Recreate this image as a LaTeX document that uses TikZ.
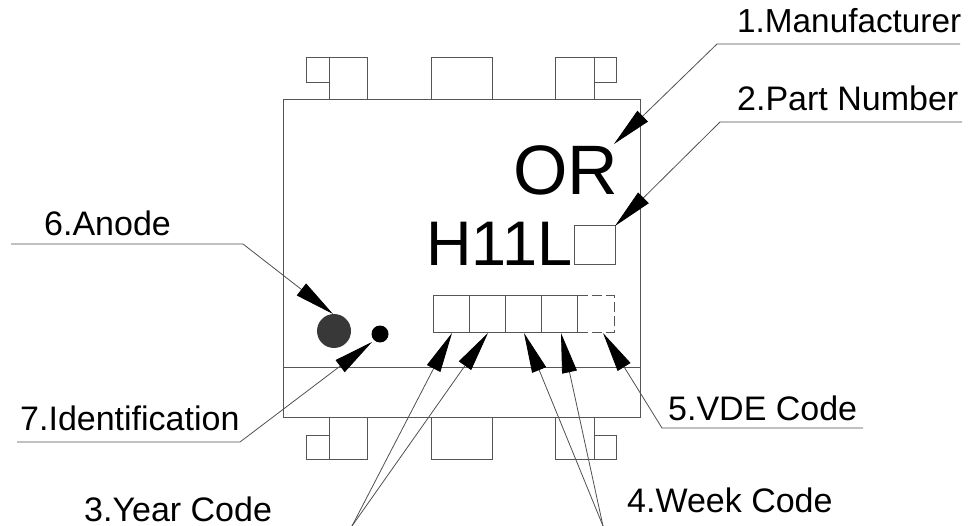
\documentclass[tikz,border=0pt]{standalone}
\usepackage{fontspec}
\setmainfont{Liberation Sans}
\usetikzlibrary{arrows.meta}
\definecolor{outline}{HTML}{555555}
\definecolor{leader}{HTML}{505050}
\tikzset{
  x=1pt,y=-1pt,
  part/.style={draw=outline,line width=1pt,fill=none},
  lead/.style={draw=leader,line width=0.8pt,line join=miter},
  pointer/.style={lead,-{Triangle[length=40pt,width=15pt,fill=black,color=black]}},
  callout/.style={inner sep=0pt,anchor=base west,font=\fontsize{34}{34}\selectfont,text=black},
  marking/.style={inner sep=0pt,anchor=base west,text=black},
  cell/.style={draw=outline,line width=1pt,minimum width=36.2pt,minimum height=36pt,inner sep=0pt,anchor=north west,outer sep=0pt}
}
\begin{document}
\begin{tikzpicture}
\useasboundingbox (0,0) rectangle (968,526);
% body
\draw[part] (283,100) rectangle (640,417);
\draw[part] (283,367) -- (640,367);
% top pins
\draw[part] (329,100) -- (329,58) -- (367.5,58) -- (367.5,100);
\draw[part] (329,58) -- (306,58) -- (306,83) -- (329,83);
\draw[part] (431,100) -- (431,58) -- (492,58) -- (492,100);
\draw[part] (555,100) -- (555,58) -- (594,58) -- (594,100);
\draw[part] (594,58) -- (616,58) -- (616,83) -- (594,83);
% bottom pins
\draw[part] (329,417) -- (329,459) -- (367.5,459) -- (367.5,417);
\draw[part] (329,435) -- (306,435) -- (306,459) -- (329,459);
\draw[part] (431,417) -- (431,459) -- (492,459) -- (492,417);
\draw[part] (555,417) -- (555,459) -- (594,459) -- (594,417);
\draw[part] (594,435) -- (616,435) -- (616,459) -- (594,459);
% markings
\node[marking,font=\fontsize{70}{70}\selectfont] (maker) at (513,194.5) {OR};
\node[marking,font=\fontsize{63}{63}\selectfont] (partno) at (426,265.5) {H11L};
\node[cell,minimum width=41pt,minimum height=39pt] (partbox) at (574,226) {};
\node[cell] (y1) at (433,296) {};
\node[cell] (y2) at (469.2,296) {};
\node[cell] (w1) at (505.4,296) {};
\node[cell] (w2) at (541.6,296) {};
\node[cell,draw=none] (vde) at (577.8,296) {};
\draw[part,dashed,dash pattern=on 10pt off 4pt] (vde.north west) -- (vde.north east) -- (vde.south east) -- (vde.south west);
\node[circle,fill=black!78,draw=none,minimum size=34pt,inner sep=0pt] (anode) at (334,331) {};
\node[circle,fill=black,draw=none,minimum size=17pt,inner sep=0pt] (ident) at (380,334) {};
% labels
\node[callout,font=\fontsize{33.3}{34}\selectfont] (l1) at (737,33) {1.Manufacturer};
\node[callout] (l2) at (737,111) {2.Part Number};
\node[callout] (l3) at (84,521) {3.Year Code};
\node[callout] (l4) at (627,512) {4.Week Code};
\node[callout] (l5) at (668,420) {5.VDE Code};
\node[callout] (l6) at (44,236) {6.Anode};
\node[callout] (l7) at (20,430) {7.Identification};
% leader coordinates
\coordinate (a1) at (960,44); \coordinate (b1) at (717,44); \coordinate (t1) at (614,144);
\coordinate (a2) at (962,122); \coordinate (b2) at (720,122);
\coordinate (a5) at (863,428); \coordinate (b5) at (662,428); \coordinate (t5) at (603,333);
\coordinate (a6) at (11,244); \coordinate (b6) at (243,244); \coordinate (t6) at (333,314);
\coordinate (a7) at (17,442); \coordinate (b7) at (240,442); \coordinate (t7) at (372,342);
\coordinate (a3) at (352,526); \coordinate (t3a) at (452,333); \coordinate (t3b) at (488,333);
\coordinate (a4) at (603,526); \coordinate (t4a) at (524,333); \coordinate (t4b) at (561,333);
% leaders
\draw[pointer] (a1) -- (b1) -- (t1);
\draw[pointer] (a2) -- (b2) -- (partbox.north east);
\draw[pointer] (a5) -- (b5) -- (t5);
\draw[pointer] (a6) -- (b6) -- (t6);
\draw[pointer] (a7) -- (b7) -- (t7);
\draw[pointer] (a3) -- (t3a);
\draw[pointer] (a3) -- (t3b);
\draw[pointer] (a4) -- (t4a);
\draw[pointer] (a4) -- (t4b);
\end{tikzpicture}
\end{document}
